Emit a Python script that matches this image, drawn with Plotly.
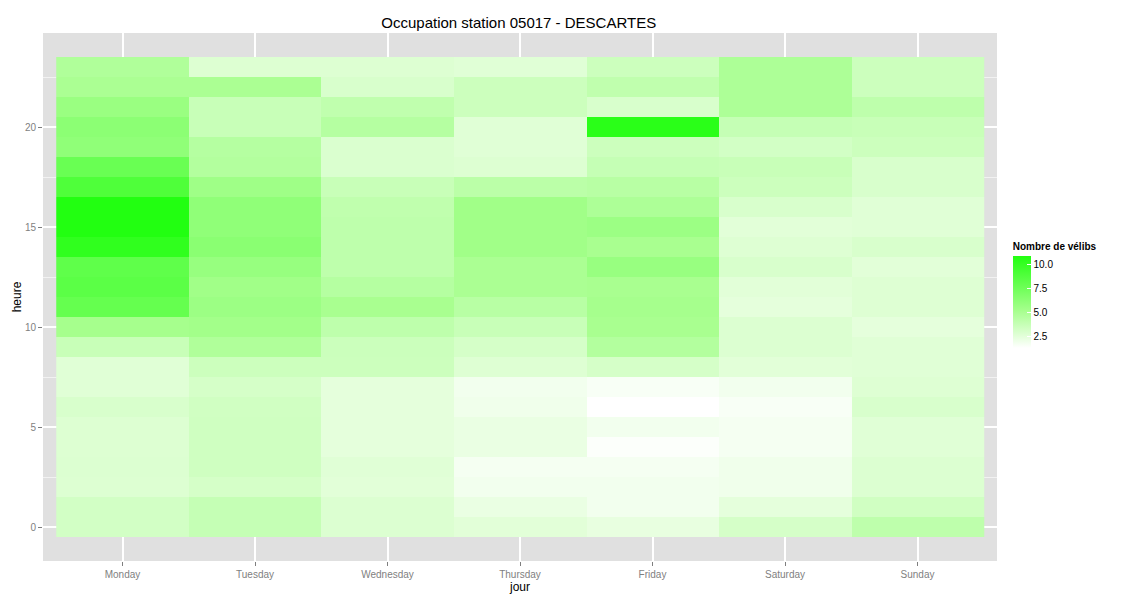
import plotly.graph_objects as go

days = ["Monday", "Tuesday", "Wednesday", "Thursday", "Friday", "Saturday", "Sunday"]
hours = list(range(24))

# mean number of bikes per hour (0..23), one list per day
monday = [3.28, 3.28, 2.81, 2.85, 2.81, 2.81, 3.03, 2.68, 2.68, 3.71, 5.22, 7.93,
          8.36, 8.19, 10.25, 10.85, 10.85, 8.92, 7.76, 6.12, 6.29, 5.73, 5.00, 4.75]
tuesday = [3.84, 3.84, 3.16, 3.41, 3.41, 3.41, 3.37, 3.16, 3.54, 4.75, 5.35, 5.61,
           5.43, 5.82, 6.38, 6.12, 6.12, 5.48, 4.62, 4.53, 3.71, 3.71, 5.00, 2.81]
wednesday = [2.85, 2.85, 2.60, 2.68, 2.47, 2.47, 2.47, 2.47, 3.54, 3.60, 4.14, 5.09,
             4.53, 4.14, 4.14, 4.14, 4.06, 3.71, 2.94, 2.94, 4.53, 4.06, 3.03, 2.81]
thursday = [2.60, 2.25, 1.91, 1.78, 2.25, 2.25, 1.99, 1.91, 2.77, 3.16, 3.71, 4.40,
            5.00, 5.00, 5.43, 5.43, 5.43, 4.27, 2.81, 2.68, 2.68, 3.54, 3.54, 2.68]
friday = [2.34, 1.91, 1.91, 1.78, 1.48, 1.91, 1.35, 1.65, 3.16, 4.62, 5.09, 5.22,
          5.09, 5.78, 5.09, 5.61, 4.88, 4.40, 3.84, 3.54, 10.51, 3.03, 4.06, 3.54]
saturday = [3.16, 2.47, 1.99, 1.99, 1.78, 1.78, 1.65, 1.91, 2.60, 2.85, 2.85, 2.47,
            2.60, 3.03, 2.77, 2.60, 3.03, 3.54, 3.71, 3.28, 3.84, 4.88, 4.88, 4.88]
sunday = [4.14, 3.37, 2.85, 2.85, 2.68, 2.68, 3.03, 2.77, 2.68, 2.68, 2.47, 2.77,
          2.77, 2.60, 3.03, 2.68, 2.68, 3.03, 3.03, 3.54, 3.71, 4.14, 3.54, 3.54]

per_day = [monday, tuesday, wednesday, thursday, friday, saturday, sunday]
z = [[col[h] for col in per_day] for h in hours]

# white -> green, roughly like ggplot's Lab gradient
scale = [[0.0, "#FFFFFF"], [0.14, "#E0FFD6"], [0.25, "#C8FFB8"],
         [0.41, "#A5FF8C"], [0.69, "#66FF50"], [1.0, "#22FF11"]]

fig = go.Figure(go.Heatmap(
    x=days, y=hours, z=z,
    colorscale=scale, zmin=1.35, zmax=10.85,
    colorbar=dict(
        title=dict(text="<b>Nombre de vélibs</b>", side="top",
                   font=dict(size=10, color="black")),
        lenmode="pixels", len=108, thickness=18,
        x=1.0165, xanchor="left", xpad=0, y=0.506, yanchor="middle", ypad=0,
        tickvals=[2.5, 5, 7.5, 10], ticktext=["2.5", "5.0", "7.5", "10.0"],
        ticks="inside", ticklen=4, tickcolor="white",
        tickfont=dict(size=10, color="black"),
        outlinewidth=0,
    ),
))

# the page puts the figure 8px in from the top-left corner
fig.update_layout(
    width=1125, height=600,
    margin=dict(l=35, r=136, t=25, b=47, autoexpand=False),
    paper_bgcolor="white", plot_bgcolor="#E0E0E0",
    font=dict(family="Liberation Sans, Arial, sans-serif"),
    title=dict(text="Occupation station 05017 - DESCARTES", x=0.454, xanchor="center",
               y=0.975, yanchor="middle", font=dict(size=15, color="black")),
)
fig.update_xaxes(
    type="category", range=[-0.6, 6.6], automargin=False,
    showgrid=True, gridcolor="white", gridwidth=1.5, zeroline=False,
    ticks="outside", ticklen=4, tickcolor="#7F7F7F",
    tickfont=dict(size=10, color="#7F7F7F"),
    title=dict(text="jour", font=dict(size=12, color="black"), standoff=2),
)
fig.update_yaxes(
    range=[-1.7, 24.7], tickvals=[0, 5, 10, 15, 20], automargin=False,
    showgrid=True, gridcolor="white", gridwidth=1.5, zeroline=False,
    minor=dict(tickvals=[2.5, 7.5, 12.5, 17.5, 22.5], showgrid=True,
               gridcolor="#F2F2F2", gridwidth=0.8),
    ticks="outside", ticklen=4, tickcolor="#7F7F7F",
    tickfont=dict(size=10, color="#7F7F7F"),
    title=dict(text="heure", font=dict(size=12, color="black"), standoff=0),
)

fig.write_html("out.html")
